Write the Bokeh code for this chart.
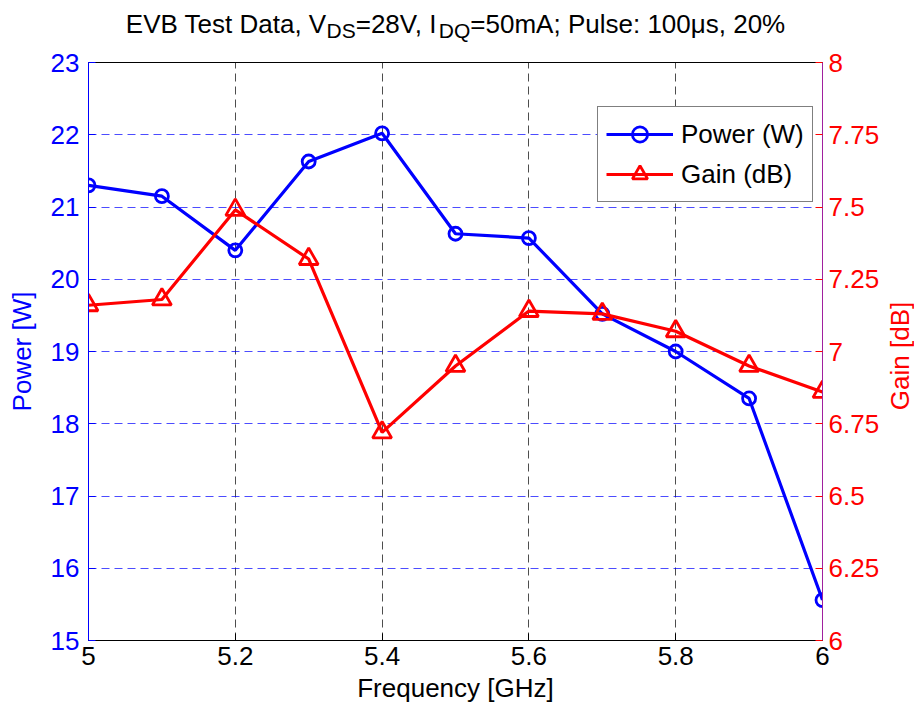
import math
from bokeh.plotting import figure
from bokeh.layouts import column, row
from bokeh.models import (Range1d, LinearAxis, FixedTicker, Label,
                          CustomJSTickFormatter)
from bokeh.embed import file_html
from bokeh.resources import INLINE

# ---------------- data ----------------
freq = [5.0, 5.1, 5.2, 5.3, 5.4, 5.5, 5.6, 5.7, 5.8, 5.9, 6.0]
power_w = [21.30, 21.15, 20.40, 21.63, 22.02, 20.63, 20.57, 19.52, 19.00, 18.35, 15.56]
gain_db = [7.16, 7.18, 7.49, 7.32, 6.72, 6.95, 7.14, 7.13, 7.07, 6.95, 6.86]

x_ticks = [5.0, 5.2, 5.4, 5.6, 5.8, 6.0]
power_ticks = [15, 16, 17, 18, 19, 20, 21, 22, 23]
gain_ticks = [6.0, 6.25, 6.5, 6.75, 7.0, 7.25, 7.5, 7.75, 8.0]

title_parts = [("EVB Test Data, V", False), ("DS", True), ("=28V, I", False),
               ("DQ", True), ("=50mA; Pulse: 100\u03bcs, 20%", False)]
x_label = "Frequency [GHz]"
y_label = "Power [W]"
y2_label = "Gain [dB]"
series_names = ["Power (W)", "Gain (dB)"]

FONT = "Liberation Sans"
FS = 26
SUB_FS = 21
BLUE = "#0000FF"
RED = "#FF0000"
TOTAL_W = 914
TOTAL_H = 711
STRIP_W = 30
MAIN_W = TOTAL_W - STRIP_W
TITLE_H = 48

fmt = CustomJSTickFormatter(code="return String(Number(tick.toFixed(4)));")


def blank_fig(w, h, xr, yr):
    f = figure(width=w, height=h, output_backend="svg", toolbar_location=None,
               x_range=xr, y_range=yr, x_axis_type=None, y_axis_type=None,
               title=None, min_border_left=0, min_border_right=0,
               min_border_top=0, min_border_bottom=0)
    f.outline_line_color = None
    f.grid.visible = False
    f.background_fill_color = "white"
    f.border_fill_color = "white"
    return f


# ---------------- title strip ----------------
pt = blank_fig(MAIN_W, TITLE_H, Range1d(5.0, 6.0), Range1d(0, TITLE_H))

AW = {' ': 278, ',': 278, '.': 278, ':': 278, ';': 278, '=': 584, '%': 889,
      'A': 667, 'B': 667, 'D': 722, 'E': 667, 'I': 278, 'P': 667, 'Q': 778,
      'S': 667, 'T': 611, 'V': 667, 'a': 556, 'e': 556, 'l': 222, 'm': 833,
      's': 500, 't': 278, 'u': 556, '\u03bc': 576}
for d in "0123456789":
    AW[d] = 556


def tw(s, size):
    return sum(AW.get(c, 556) for c in s) * size / 1000.0


widths = [tw(t, SUB_FS if sub else FS) for t, sub in title_parts]
widths[0] -= 3  # kerning in "Te"/"Da"
total = sum(widths)
cur = -total / 2.0
for (t, sub), w in zip(title_parts, widths):
    pt.add_layout(Label(x=5.5, y=(18 if sub else 25), x_offset=cur, text=t,
                        text_font=FONT, text_font_size=f"{SUB_FS if sub else FS}px",
                        text_color="black", text_align="left", text_baseline="alphabetic"))
    cur += w

# ---------------- right label strip ----------------
pr = blank_fig(STRIP_W, TOTAL_H, Range1d(0, 1), Range1d(0, 1))
pr.add_layout(Label(x=0.5, y=0.5, text=y2_label, angle=math.pi / 2,
                    text_font=FONT, text_font_size=f"{FS}px", text_color=RED,
                    text_align="center", text_baseline="middle"))

# ---------------- main plot ----------------
p = figure(width=MAIN_W, height=TOTAL_H - TITLE_H, output_backend="svg",
           toolbar_location=None, title=None,
           x_range=Range1d(5.0, 6.0), y_range=Range1d(15, 23),
           min_border_left=88, min_border_right=62, min_border_top=14,
           min_border_bottom=71)
p.extra_y_ranges = {"gain": Range1d(6.0, 8.0)}
p.outline_line_color = "black"
p.outline_line_width = 1
p.background_fill_color = "white"
p.border_fill_color = "white"

# x axis
xa = p.xaxis[0]
xa.ticker = FixedTicker(ticks=x_ticks)
xa.formatter = fmt
xa.major_label_text_font = FONT
xa.major_label_text_font_size = f"{FS}px"
xa.major_label_text_color = "black"
xa.major_label_standoff = 6
xa.major_tick_in = 7
xa.major_tick_out = 0
xa.minor_tick_line_color = None
xa.axis_line_color = "black"
xa.major_tick_line_color = "black"
xa.axis_label = x_label
xa.axis_label_text_font = FONT
xa.axis_label_text_font_size = f"{FS}px"
xa.axis_label_text_font_style = "normal"
xa.axis_label_text_color = "black"
xa.axis_label_standoff = 5

# left axis
ya = p.yaxis[0]
ya.ticker = FixedTicker(ticks=power_ticks)
ya.formatter = fmt
ya.major_label_text_font = FONT
ya.major_label_text_font_size = f"{FS}px"
ya.major_label_text_color = BLUE
ya.major_label_standoff = 9
ya.major_tick_in = 7
ya.major_tick_out = 0
ya.minor_tick_line_color = None
ya.axis_line_color = BLUE
ya.major_tick_line_color = BLUE
ya.axis_label = y_label
ya.axis_label_text_font = FONT
ya.axis_label_text_font_size = f"{FS}px"
ya.axis_label_text_font_style = "normal"
ya.axis_label_text_color = BLUE
ya.axis_label_standoff = 11

# right axis
ra = LinearAxis(y_range_name="gain", ticker=FixedTicker(ticks=gain_ticks), formatter=fmt)
ra.major_label_text_font = FONT
ra.major_label_text_font_size = f"{FS}px"
ra.major_label_text_color = RED
ra.major_label_standoff = 6
ra.major_tick_in = 7
ra.major_tick_out = 0
ra.minor_tick_line_color = None
ra.axis_line_color = "#A0209F"
ra.major_tick_line_color = RED
p.add_layout(ra, "right")

# grids
p.xgrid.ticker = FixedTicker(ticks=x_ticks)
p.xgrid.grid_line_color = "#202020"
p.xgrid.grid_line_alpha = 0.8
p.xgrid.grid_line_dash = "8 5"
p.xgrid.grid_line_width = 1
p.ygrid.ticker = FixedTicker(ticks=power_ticks)
p.ygrid.grid_line_color = BLUE
p.ygrid.grid_line_alpha = 0.7
p.ygrid.grid_line_dash = "8 5"
p.ygrid.grid_line_width = 1

# series
p.line(freq, power_w, line_color=BLUE, line_width=3.2, legend_label=series_names[0])
p.scatter(freq, power_w, marker="circle", size=13, line_color=BLUE, line_width=2.8,
          fill_color=None, legend_label=series_names[0])
p.line(freq, gain_db, line_color=RED, line_width=3.2, y_range_name="gain",
       legend_label=series_names[1])
p.scatter(freq, gain_db, marker="triangle", size=19, line_color=RED, line_width=2.8,
          fill_color=None, y_range_name="gain", legend_label=series_names[1])

lg = p.legend[0]
lg.location = (509, 438)
lg.label_text_font = FONT
lg.label_text_font_size = f"{FS}px"
lg.label_text_color = "black"
lg.glyph_width = 67
lg.glyph_height = 38
lg.label_height = 38
lg.label_standoff = 8
lg.spacing = 2
lg.padding = 8
lg.margin = 0
lg.border_line_color = "black"
lg.border_line_width = 1
lg.background_fill_color = "white"
lg.background_fill_alpha = 1.0

layout = row(column(pt, p, spacing=0), pr, spacing=0)
open("out.html", "w").write(file_html(layout, INLINE))
